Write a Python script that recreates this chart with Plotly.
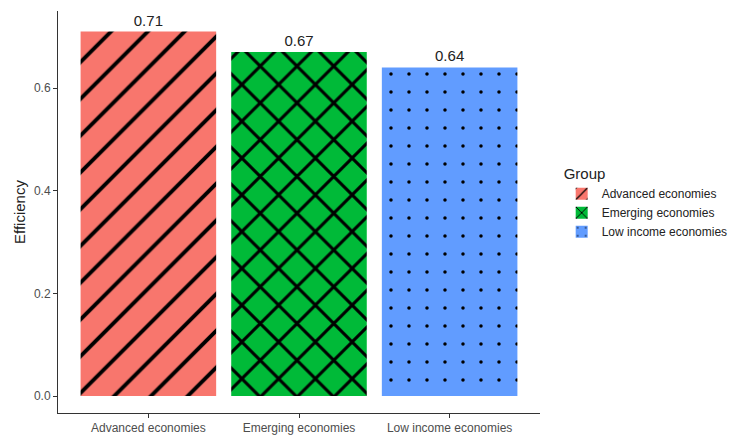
import plotly.graph_objects as go

groups = ["Advanced economies", "Emerging economies", "Low income economies"]
efficiency = [0.71, 0.67, 0.64]
labels = ["0.71", "0.67", "0.64"]
colors = ["#F8766D", "#00BA38", "#619CFF"]
patterns = ["/", "x", "."]
pattern_fg = ["black", "black", "black"]
pattern_size = [26, 26, 18]
pattern_solidity = [0.15, 0.22, 0.03]
y_ticks = [0.0, 0.2, 0.4, 0.6]
y_tick_text = ["0.0", "0.2", "0.4", "0.6"]

fig = go.Figure()
for g, v, lab, c, p, fg, sz, so in zip(groups, efficiency, labels, colors, patterns,
                                         pattern_fg, pattern_size, pattern_solidity):
    fig.add_trace(go.Bar(
        x=[g], y=[v], name=g, text=[lab], textposition="outside",
        textfont=dict(size=15, color="#222222"),
        marker=dict(color=c, line=dict(width=0),
                    pattern=dict(shape=p, fgcolor=fg, bgcolor=c, size=sz,
                                 solidity=so, fillmode="replace")),
        cliponaxis=False, width=0.9,
    ))

fig.update_layout(
    width=737, height=436,
    margin=dict(l=58, r=197, t=11, b=23, autoexpand=False),
    paper_bgcolor="white", plot_bgcolor="white",
    font=dict(family="Liberation Sans, Arial, sans-serif", color="#4d4d4d", size=12),
    barmode="overlay",
    showlegend=True,
    legend=dict(
        title=dict(text="Group", font=dict(size=15, color="#222222")),
        x=1.045, xanchor="left", y=0.63, yanchor="top",
        font=dict(size=12, color="#222222"),
        tracegroupgap=0, itemsizing="constant",
    ),
    xaxis=dict(
        range=[-0.6, 2.6], showline=True, linecolor="#333333", linewidth=1,
        ticks="outside", ticklen=4, tickcolor="#333333",
        tickfont=dict(size=12, color="#4d4d4d"), showgrid=False, zeroline=False,
        categoryorder="array", categoryarray=groups, automargin=False,
    ),
    yaxis=dict(
        range=[-0.0331, 0.75], showline=True, linecolor="#333333", linewidth=1,
        ticks="outside", ticklen=4, tickcolor="#333333",
        tickvals=y_ticks, ticktext=y_tick_text, automargin=False,
        tickfont=dict(size=12, color="#4d4d4d"), showgrid=False, zeroline=False,
        title=dict(text="Efficiency", font=dict(size=15, color="#222222"), standoff=4),
    ),
)

fig.write_html("out.html", config={"displayModeBar": False},
               post_script="document.body.style.margin='0';")
